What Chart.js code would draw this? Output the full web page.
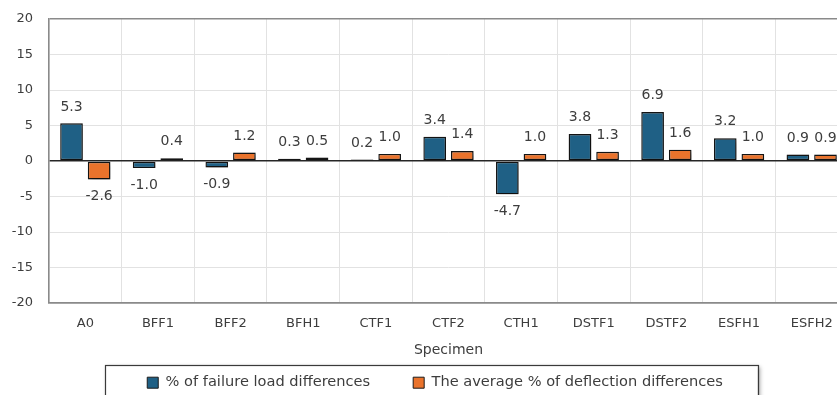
<!DOCTYPE html>
<html>
<head>
<meta charset="utf-8">
<script src="https://cdn.jsdelivr.net/npm/chart.js@4.4.1/dist/chart.umd.min.js"></script>
<style>
  html, body { margin: 0; padding: 0; background: #ffffff; overflow: hidden; }
  #wrap { width: 850px; height: 400px; }
</style>
</head>
<body>
<div id="wrap"><canvas id="c" width="850" height="400"></canvas></div>
<script>
// Specimens along the x axis
const specimens = ['A0', 'BFF1', 'BFF2', 'BFH1', 'CTF1', 'CTF2', 'CTH1', 'DSTF1', 'DSTF2', 'ESFH1', 'ESFH2'];

// % of failure load differences
const failureLoadDiff = [5.3, -1.0, -0.9, 0.3, 0.2, 3.4, -4.7, 3.8, 6.9, 3.2, 0.9];

// The average % of deflection differences
const deflectionDiff = [-2.6, 0.4, 1.2, 0.5, 1.0, 1.4, 1.0, 1.3, 1.6, 1.0, 0.9];

// Y axis range and step
const yMin = -20;
const yMax = 20;
const yStep = 5;

const seriesNames = ['% of failure load differences', 'The average % of deflection differences'];

const TEXT = '#3d3d3d';
const BLUE = '#1f6085';
const ORANGE = '#ea732c';

// soft drop shadow behind the bars
const barShadow = {
  id: 'barShadow',
  beforeDatasetsDraw(chart) {
    const ctx = chart.ctx;
    ctx.save();
    ctx.shadowColor = 'rgba(0,0,0,0.45)';
    ctx.shadowBlur = 5;
    ctx.shadowOffsetX = 2;
    ctx.shadowOffsetY = 2;
  },
  afterDatasetsDraw(chart) {
    chart.ctx.restore();
  }
};

// value labels above positive bars and below negative ones
const valueLabels = {
  id: 'valueLabels',
  afterDatasetsDraw(chart) {
    const ctx = chart.ctx;
    ctx.save();
    ctx.font = '14px "DejaVu Sans"';
    ctx.fillStyle = TEXT;
    ctx.textAlign = 'center';
    ctx.textBaseline = 'middle';
    chart.data.datasets.forEach((ds, i) => {
      const meta = chart.getDatasetMeta(i);
      meta.data.forEach((bar, j) => {
        const v = ds.data[j];
        const y = v >= 0 ? bar.y - 16.5 : bar.y + 17;
        ctx.fillText(v.toFixed(1), bar.x, y);
      });
    });
    ctx.restore();
  }
};

// nudge the legend a little to the right of the canvas centre
const legendShift = {
  id: 'legendShift',
  afterLayout(chart) {
    const lg = chart.legend;
    if (!lg) return;
    lg.left += 11;
    lg.right += 11;
  }
};

// framed legend box
const legendFrame = {
  id: 'legendFrame',
  beforeDraw(chart) {
    const lg = chart.legend;
    if (!lg || !lg.legendHitBoxes || !lg.legendHitBoxes.length) return;
    const boxes = lg.legendHitBoxes;
    const first = boxes[0];
    const last = boxes[boxes.length - 1];
    const left = first.left - 42;
    const right = last.left + last.width + 35;
    const top = first.top - 10;
    const bottom = first.top + first.height + 16;
    const ctx = chart.ctx;
    ctx.save();
    ctx.shadowColor = 'rgba(0,0,0,0.35)';
    ctx.shadowBlur = 4;
    ctx.shadowOffsetX = 2;
    ctx.shadowOffsetY = 2;
    ctx.fillStyle = '#ffffff';
    ctx.fillRect(left, top, right - left, bottom - top);
    ctx.restore();
    ctx.save();
    ctx.strokeStyle = '#3a3a3a';
    ctx.lineWidth = 1.2;
    ctx.strokeRect(Math.round(left) + 0.5, Math.round(top) + 0.5, Math.round(right - left), Math.round(bottom - top));
    ctx.restore();
  }
};

new Chart(document.getElementById('c'), {
  type: 'bar',
  data: {
    labels: specimens,
    datasets: [
      {
        label: seriesNames[0],
        data: failureLoadDiff,
        backgroundColor: BLUE,
        borderColor: '#151515',
        borderWidth: 1.4,
        borderSkipped: false,
        categoryPercentage: 0.76,
        barPercentage: 0.82
      },
      {
        label: seriesNames[1],
        data: deflectionDiff,
        backgroundColor: ORANGE,
        borderColor: '#151515',
        borderWidth: 1.4,
        borderSkipped: false,
        categoryPercentage: 0.76,
        barPercentage: 0.82
      }
    ]
  },
  options: {
    responsive: false,
    animation: false,
    devicePixelRatio: 1,
    layout: { padding: { top: 0, left: 0, right: 2, bottom: 0 } },
    plugins: {
      legend: {
        position: 'bottom',
        labels: {
          color: TEXT,
          font: { family: '"DejaVu Sans"', size: 14.6 },
          boxWidth: 11,
          boxHeight: 11,
          padding: 43,
          generateLabels(chart) {
            return chart.data.datasets.map((ds, i) => ({
              text: ds.label,
              fillStyle: ds.backgroundColor,
              strokeStyle: '#1a1a1a',
              lineWidth: 1,
              fontColor: TEXT,
              hidden: false,
              datasetIndex: i
            }));
          }
        }
      },
      tooltip: { enabled: false }
    },
    scales: {
      x: {
        grid: {
          color: '#e2e2e2',
          lineWidth: 1,
          offset: true,
          drawTicks: false
        },
        border: { color: '#8a8a8a', width: 1.5 },
        ticks: {
          color: TEXT,
          font: { family: '"DejaVu Sans"', size: 13 },
          padding: 13,
          maxRotation: 0
        },
        title: {
          display: true,
          text: 'Specimen',
          color: TEXT,
          font: { family: '"DejaVu Sans"', size: 14 },
          padding: { top: 0, bottom: -26 }
        },
        afterFit(scale) { scale.height = 29.4; }
      },
      y: {
        min: yMin,
        max: yMax,
        grid: {
          drawTicks: false,
          color(ctx) {
            const v = ctx.tick && ctx.tick.value;
            if (v === 0) return '#262626';
            if (v === yMax || v === yMin) return '#8a8a8a';
            return '#e2e2e2';
          },
          lineWidth(ctx) {
            const v = ctx.tick && ctx.tick.value;
            if (v === 0) return 1.5;
            if (v === yMax || v === yMin) return 1.5;
            return 1;
          }
        },
        border: { color: '#8a8a8a', width: 1.5 },
        ticks: {
          stepSize: yStep,
          color: TEXT,
          font: { family: '"DejaVu Sans"', size: 13 },
          padding: 16
        },
        afterFit(scale) {
          scale.width = 49;
          scale.paddingTop = 19;
        }
      }
    }
  },
  plugins: [legendShift, legendFrame, barShadow, valueLabels]
});
</script>
</body>
</html>
